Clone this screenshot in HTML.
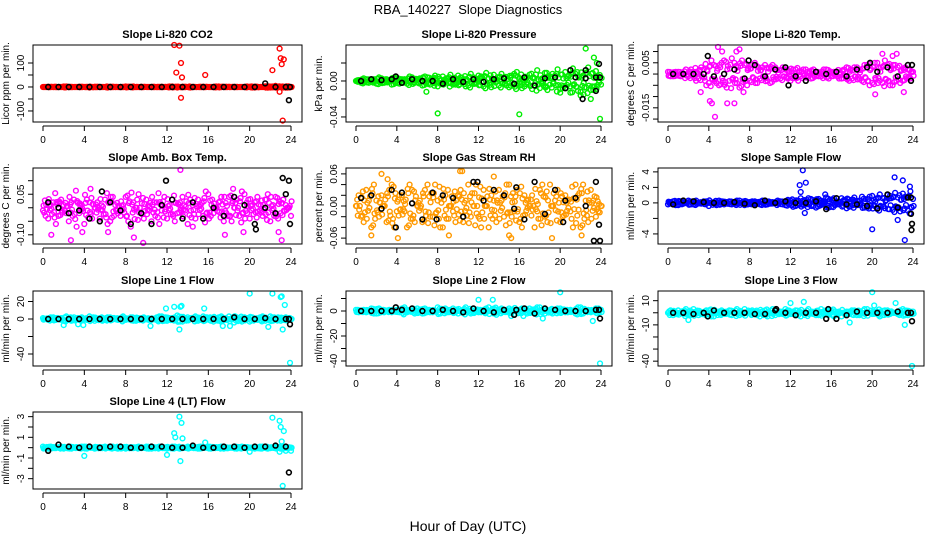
<!DOCTYPE html>
<html><head><meta charset="utf-8"><style>
html,body{margin:0;padding:0;background:#fff;}
svg{display:block;font-family:"Liberation Sans",sans-serif;}
</style></head><body>
<svg id="chart" width="936" height="540" viewBox="0 0 936 540" xmlns="http://www.w3.org/2000/svg">
<rect width="936" height="540" fill="#fff"/>
<text x="468" y="14" text-anchor="middle" font-size="13">RBA_140227&#160; Slope Diagnostics</text>
<text x="468" y="531" text-anchor="middle" font-size="14">Hour of Day (UTC)</text>
</svg>
<script>
const hrsA=[0,0.5,1,1.5,2,2.5,3,3.5,4,4.5,5,5.5,6,6.5,7,7.5,8,8.5,9,9.5,10,10.5,11,11.5,12,12.5,13,13.5,14,14.5,15,15.5,16,16.5,17,17.5,18,18.5,19,19.5,20,20.5,21,21.5,22,22.5,23,23.5,24];
const hrsB=[0.25,0.75,1.25,1.75,2.25,2.75,3.25,3.75,4.25,4.75,5.25,5.75,6.25,6.75,7.25,7.75,8.25,8.75,9.25,9.75,10.25,10.75,11.25,11.75,12.25,12.75,13.25,13.75,14.25,14.75,15.25,15.75,16.25,16.75,17.25,17.75,18.25,18.75,19.25,19.75,20.25,20.75,21.25,21.75,22.25,22.75,23.25,23.75];
const hrsK=[0.5,1.5,2.5,3.5,4.5,5.5,6.5,7.5,8.5,9.5,10.5,11.5,12.5,13.5,14.5,15.5,16.5,17.5,18.5,19.5,20.5,21.5,22.5,23.5];
const xTicks=[0,4,8,12,16,20,24];

const p1A=[0,1,-1,0,2,-1,0,1,0,-2,1,0,0,1,-1,0,2,0,-1,1,0,0,-1,1,0,2,-2,1,0,-1,0,1,0,-1,2,0,1,-1,0,0,1,-2,0,3,-2,4,1,-3,0];
const p1B=[0,-1,1,0,2,-1,0,1,-1,0,1,0,-2,1,0,-1,1,2,0,-1,0,1,-1,0,2,-1,0,1,-2,0,1,-1,0,2,-1,1,0,-1,0,2,-2,1,0,-3,2,1,-2,3];
const p1OutH=[12.7,13.2,12.9,13.35,13.45,13.35,15.7,22.2,22.9,23.0,23.1,23.3,23.2,22.9,22.5];
const p1OutV=[175,172,60,100,40,-45,50,70,160,120,95,115,-140,-20,5];
const p1K=[0,0,0,0,0,0,0,0,0,0,0,0,0,0,0,0,0,0,0,0,0,15,0,0];
const p1KoH=[23.8,23.9];
const p1KoV=[-55,0];

const p2A=[0,-0.002,0.002,0.001,-0.003,0.003,0.002,-0.004,0.003,0.002,-0.003,0.004,0.002,-0.005,0.004,0.003,-0.006,0.005,0.003,-0.004,0.006,0.002,-0.005,0.004,0.006,-0.006,0.003,0.007,-0.005,0.004,-0.007,0.008,0.002,-0.006,0.007,0.003,-0.008,0.009,-0.004,0.006,-0.009,0.01,-0.006,0.008,-0.012,0.009,-0.01,0.011,-0.004];
const p2B=[0.001,0.003,-0.002,0.002,0.004,-0.002,0.001,0.004,-0.003,0.002,0.005,-0.002,0.003,0.005,-0.004,0.006,-0.003,0.002,0.007,-0.004,0.004,-0.006,0.008,-0.003,0.005,0.009,-0.007,0.002,0.008,-0.005,0.006,0.01,-0.008,0.004,-0.009,0.012,0.003,-0.01,0.008,0.013,-0.008,0.005,0.014,-0.011,0.006,0.015,-0.01,0.005];
const p2OutH=[6.9,8,16,20,21,22,22.5,22.3,23,23.3,23.9,23.6];
const p2OutV=[-0.012,-0.036,-0.037,-0.013,-0.013,-0.016,0.036,-0.015,-0.02,0.026,-0.042,0.02];
const p2K=[0,0.002,0.001,0.002,-0.002,0.002,0,0,-0.003,0.002,-0.001,0.002,-0.001,0.002,0.003,-0.003,0.004,-0.005,0.003,0.004,-0.008,0.004,0.003,0.004];
const p2KoH=[21,22.2,22.5,23.8,23.9,23.5,3.9];
const p2KoV=[0.012,-0.02,0.012,0.019,0.004,-0.011,0.005];

const p3A=[0.001,-0.001,0.001,0,-0.001,0.001,-0.002,0.002,-0.004,0.004,-0.005,0.006,-0.003,0.005,-0.006,0.004,-0.003,0.005,-0.002,0.004,-0.004,0.003,-0.002,0.002,-0.003,0.002,-0.001,0.002,-0.002,0.001,-0.001,0.002,-0.001,0.001,-0.002,0.003,-0.002,0.003,-0.003,0.004,-0.004,0.005,-0.004,0.004,-0.005,0.003,-0.003,0.002,0.001];
const p3B=[-0.001,0.001,-0.001,0.002,0.002,-0.003,0.003,-0.005,0.006,-0.004,0.005,-0.006,0.007,-0.004,0.006,-0.005,0.004,-0.004,0.003,-0.003,0.004,-0.002,0.003,-0.002,0.002,-0.003,0.002,-0.001,0.002,-0.001,0.002,-0.002,0.001,-0.002,0.002,-0.003,0.003,-0.002,0.004,-0.005,0.005,-0.003,0.006,-0.005,0.004,-0.004,0.003,-0.002];
const p3OutH=[4.1,4.3,4.6,4.9,5.3,5.8,6.5,7.0,7.4,3.2,20.3,21.0,22.4,23.1,22.0,6.7];
const p3OutV=[-0.012,-0.013,-0.019,0.012,0.01,-0.013,-0.013,0.011,-0.008,-0.008,-0.009,0.009,0.009,-0.008,0.008,0.010];
const p3K=[0,0,0,0,-0.001,0,0.002,-0.002,0.004,-0.001,0.002,0.003,-0.001,-0.003,0.001,0,0.001,-0.001,0.002,0.003,0.001,0.003,-0.001,0.004];
const p3KoH=[3.9,7.9,11.8,19.8,23.8,23.9];
const p3KoV=[0.008,0.006,-0.005,0.005,-0.003,0.004];

const p4A=[-0.01,-0.04,0.02,-0.03,0.01,-0.05,0.03,-0.02,-0.06,0.02,0,-0.04,0.03,-0.05,0.01,-0.03,0.04,-0.07,0,-0.02,0.03,-0.05,0.02,-0.01,-0.04,0.03,-0.02,0.04,-0.06,0.01,0.03,-0.03,0.05,-0.02,0.02,-0.05,0.04,0,-0.03,0.05,-0.04,0.02,-0.01,0.03,-0.05,0.04,-0.02,0.01,-0.03];
const p4B=[-0.03,0.01,-0.06,0.03,-0.02,0.02,-0.07,0.01,0.03,-0.04,0.02,-0.01,-0.06,0.04,-0.02,0.01,-0.05,0.02,0.05,-0.04,-0.01,0.02,-0.06,0.04,0.01,-0.05,0.02,-0.01,0.03,-0.04,0.01,0.06,-0.03,0,0.04,-0.02,-0.05,0.03,0.06,-0.02,0.01,0.04,-0.03,0.05,0.01,-0.04,0.03,0];
const p4OutH=[0.8,2.7,3.8,6.3,8.8,9.7,13.3,17.6,19.4,22.8,23.1,4.6,14.5,18.4];
const p4OutV=[-0.1,-0.12,-0.09,-0.09,-0.11,-0.13,0.14,-0.1,-0.09,-0.09,-0.12,0.07,-0.07,0.07];
const p4K=[0.02,0,-0.02,-0.01,-0.04,-0.05,0.02,-0.01,-0.06,-0.02,-0.06,0.01,0.03,-0.04,0.02,-0.04,0,-0.03,0.04,0.01,-0.06,0,-0.02,0.05];
const p4KoH=[5.7,11.9,23.2,23.8,20.6,23.9];
const p4KoV=[0.06,0.1,0.11,0.1,-0.08,-0.06];

const p5A=[0,-0.02,0.03,-0.04,0.01,0.02,-0.03,0.04,-0.01,0.02,-0.04,0.03,0,-0.03,0.04,-0.02,0.01,-0.04,0.03,-0.01,0.02,-0.03,0.04,0,-0.02,0.03,-0.04,0.01,0.03,-0.02,0.04,-0.01,-0.03,0.02,0,-0.04,0.03,-0.02,0.04,0.01,-0.03,0.02,-0.01,0.04,-0.04,0.01,0.03,-0.02,0];
const p5B=[0.02,-0.03,0.01,0.04,-0.02,0,0.03,-0.04,0.02,-0.01,0.04,-0.03,0.01,0.03,-0.02,0.04,-0.04,0.02,0,-0.03,0.03,0.01,-0.02,0.04,-0.04,0,0.02,-0.03,0.01,0.04,-0.02,0.03,-0.04,0.01,0.02,-0.01,0.04,-0.03,0,0.03,-0.02,0.01,-0.04,0.02,0.04,-0.03,0.01,-0.01];
const p5OutH=[2.5,3.1,4.1,10.2,10.4,13.5,15.0,15.2,19.2,9.1,1.5,22.1];
const p5OutV=[0.06,0.05,-0.06,0.065,0.065,0.055,-0.055,-0.06,-0.06,-0.055,-0.055,-0.055];
const p5K=[0.015,0.02,-0.005,0.03,0.025,0.005,-0.025,0.025,0.02,0.015,-0.02,0.045,0.01,0.03,0.02,-0.005,-0.025,0.045,-0.015,0.03,0.01,0.015,0,0.045];
const p5KoH=[3.9,7.9,11.9,15.7,23.3,23.9,23.8,20.3];
const p5KoV=[-0.04,-0.025,0.045,0.035,-0.065,-0.065,-0.035,-0.03];

const p6A=[-0.2,0.2,-0.3,0.1,0.3,-0.2,0,0.2,-0.4,0.1,0.3,-0.2,0.2,-0.1,0.3,-0.3,0.1,0.2,-0.2,0.3,-0.1,0,0.2,-0.3,0.3,-0.4,0.6,-0.2,0.5,-0.6,0.3,0.7,-0.5,0.2,0.6,-0.7,0.4,-0.3,0.8,-0.6,0.9,-0.8,0.6,1.0,-0.9,0.7,1.2,-1.0,0.5];
const p6B=[0.1,-0.3,0.2,0,-0.2,0.3,-0.1,0.2,0,-0.3,0.2,0.1,-0.2,0.3,0,-0.2,0.2,-0.1,0.3,-0.2,0.1,0.3,-0.2,0.4,-0.5,0.3,-0.3,0.6,-0.4,0.5,0.2,-0.6,0.6,-0.2,0.4,-0.5,0.7,0.3,-0.6,0.8,-0.4,1.1,-0.7,0.9,1.3,-1.1,0.8,1.5];
const p6OutH=[13.2,12.9,13.5,13.0,20.0,22.2,22.5,23.2,23.0,23.7,13.4,15.4];
const p6OutV=[4.2,2.3,2.6,1.4,-3.4,3.3,-2.2,-4.8,2.9,2.1,-1.3,1.1];
const p6K=[-0.2,0.3,0.2,0.1,0,0,0.1,-0.1,-0.3,0.3,0,0.2,0,0,0.2,-0.8,0.6,-0.2,-0.2,-0.4,-0.7,1.1,-0.6,0.7];
const p6KoH=[23.8,23.9,23.85,23.8];
const p6KoV=[-1.4,-2.7,-3.5,0.7];

const p7A=[1,-1,2,0,-2,1,2,-1,0,3,-2,1,-1,2,0,1,-1,2,-2,1,0,-1,2,3,-2,1,4,-3,2,0,-2,3,1,-3,2,-1,3,-4,1,2,-3,0,2,-2,3,1,-2,2,0];
const p7B=[0,2,-1,1,3,-2,0,2,-1,1,0,-2,2,1,-1,3,0,-2,1,2,-1,0,3,-2,1,2,-3,1,0,3,-1,2,-2,1,3,-1,0,2,-3,1,2,-1,3,0,-2,2,1,-1];
const p7OutH=[2,3.4,3.9,10.4,11.9,12.7,13.2,13.4,15.6,17.4,18.1,20,22.2,23,23.1,23.2,23.4,23.9,21.8,13.3];
const p7OutV=[-7,-6,-7,-8,12,14,-12,15,12,-8,-8,29,29,25,26,-12,16,-50,-9,14];
const p7K=[0,0,0,0,0,0,0,0,0,0,0,0,0,0,0,0,0,0,2,0,0,1,0,0];
const p7KoH=[23.9,23.8];
const p7KoV=[-6,0];

const p8A=[1,0,-1,2,-2,1,0,-1,1,2,-1,0,2,-2,1,-1,3,0,-1,2,-2,1,0,2,-1,1,3,-2,0,1,2,-3,1,0,2,-1,3,-2,1,0,2,-1,1,-2,3,0,-1,2,1];
const p8B=[-1,1,0,-2,2,-1,1,0,-1,3,0,-2,1,2,-1,0,-2,2,1,-1,0,3,-2,1,-1,2,0,-3,2,1,-1,0,2,-2,1,3,-1,0,-2,2,1,-1,0,3,-2,1,0,2];
const p8OutH=[12,13.4,18.3,20,23.2,23.9,16.4,15.2];
const p8OutV=[9,9,-6,15,-8,-42,-4,-4];
const p8K=[0,0,0,0,1,2,0,0,1,0,-1,2,0,-1,1,-3,2,-2,2,1,0,0,0,1];
const p8KoH=[3.9,23.9,23.8,15.7];
const p8KoV=[3,-6,1,1];

const p9A=[0,-2,2,-1,1,3,-2,0,2,-3,1,-1,2,0,-2,3,1,-1,-3,2,0,-2,1,3,-1,2,-3,0,1,-2,3,-1,2,0,-3,1,2,-2,0,3,-1,1,-2,2,0,-1,3,-2,1];
const p9B=[2,-1,0,3,-2,1,-1,2,-3,0,2,1,-2,3,-1,0,2,-2,1,-3,3,0,-1,2,1,-2,0,3,-1,-2,1,2,-3,1,0,-1,2,-2,3,0,1,-3,2,-1,0,2,-2,1];
const p9OutH=[2,20,20.2,23.2,22.3,23.9,12,13.3,17.8];
const p9OutV=[-6,17,6,-10,8,-44,8,9,-8];
const p9K=[0,0,-1,0,2,0,0,0,-1,-1,2,0,-2,0,0,-5,-5,-2,1,0,0,0,1,0];
const p9KoH=[3.9,23.9,23.8,10.6,15.7];
const p9KoV=[-3,-7,0,3,3];

const p10A=[0.1,-0.1,0.05,0,-0.1,0.1,0,-0.05,0.1,0,-0.1,0.05,0.1,-0.05,0,0.1,-0.1,0.05,0,-0.05,0.1,-0.1,0,0.05,-0.1,0.1,0,-0.05,0.1,0.05,-0.1,0,0.1,-0.05,0.05,-0.1,0,0.1,-0.05,0.05,0,-0.1,0.1,0,-0.05,0.1,-0.1,0.05,0];
const p10B=[0,0.1,-0.05,0.1,0,-0.1,0.05,0.1,-0.1,0,0.05,-0.05,0,0.1,-0.1,0.05,0,-0.05,0.1,0,-0.1,0.05,0.1,-0.05,0,0.1,-0.1,0,0.05,-0.05,0.1,0,-0.1,0.05,0.1,-0.05,0,-0.1,0.1,0.05,0,-0.05,0.1,-0.1,0,0.05,0.1,-0.05];
const p10OutH=[4,12,12.7,12.8,13.2,13.3,13.4,13.5,15.7,20,22.2,22.9,23,23.1,23.3,23.5,23.2,22.9,24];
const p10OutV=[-0.8,-0.7,1.4,1,3,-1.3,2.4,0.9,0.5,-0.4,2.9,2.6,2,0.6,1.6,-0.3,-3.7,-0.4,-0.3];
const p10K=[-0.3,0.3,0.1,0,0.1,0,0.1,0.1,0,0,0.1,0.1,0,0,0.2,0,0,0.1,0.1,0,0.1,0.1,0.2,0.1];
const p10KoH=[23.8];
const p10KoV=[-2.4];

const panels=[
 {name:'co2',title:'Slope Li-820 CO2',ylab:'Licor ppm per min.',col:'#ff0000',box:[33,45,269,77],ymin:-146,ymax:175,ticks:[-100,-50,0,50,100],labs:[-100,0,100],fmt:0,A:p1A,B:p1B,oh:p1OutH,ov:p1OutV,K:p1K,koh:p1KoH,kov:p1KoV},
 {name:'pressure',title:'Slope Li-820 Pressure',ylab:'kPa per min.',col:'#00ee00',box:[346,45,266,77],ymin:-0.0456,ymax:0.04,ticks:[-0.04,-0.02,0,0.02],labs:[-0.04,0],fmt:2,A:p2A,B:p2B,oh:p2OutH,ov:p2OutV,K:p2K,koh:p2KoH,kov:p2KoV},
 {name:'li820-temp',title:'Slope Li-820 Temp.',ylab:'degrees C per min.',col:'#ff00ff',box:[658,45,266,77],ymin:-0.0213,ymax:0.0129,ticks:[-0.02,-0.015,-0.01,-0.005,0,0.005,0.01],labs:[-0.015,0.005],fmt:3,A:p3A,B:p3B,oh:p3OutH,ov:p3OutV,K:p3K,koh:p3KoH,kov:p3KoV},
 {name:'amb-box-temp',title:'Slope Amb. Box Temp.',ylab:'degrees C per min.',col:'#ff00ff',box:[33,168,269,76],ymin:-0.134,ymax:0.147,ticks:[-0.1,-0.05,0,0.05,0.1],labs:[-0.1,0.05],fmt:2,A:p4A,B:p4B,oh:p4OutH,ov:p4OutV,K:p4K,koh:p4KoH,kov:p4KoV},
 {name:'gas-stream-rh',title:'Slope Gas Stream RH',ylab:'percent per min.',col:'#ff9900',box:[346,168,266,76],ymin:-0.071,ymax:0.071,ticks:[-0.06,-0.04,-0.02,0,0.02,0.04,0.06],labs:[-0.06,0,0.06],fmt:2,A:p5A,B:p5B,oh:p5OutH,ov:p5OutV,K:p5K,koh:p5KoH,kov:p5KoV},
 {name:'sample-flow',title:'Slope Sample Flow',ylab:'ml/min per min.',col:'#0000ff',box:[658,168,266,76],ymin:-5.3,ymax:4.5,ticks:[-4,-2,0,2,4],labs:[-4,0,2,4],fmt:0,A:p6A,B:p6B,oh:p6OutH,ov:p6OutV,K:p6K,koh:p6KoH,kov:p6KoV},
 {name:'line1-flow',title:'Slope Line 1 Flow',ylab:'ml/min per min.',col:'#00ffff',box:[33,291,269,75],ymin:-53.7,ymax:32,ticks:[-40,-20,0,20],labs:[-40,0,20],fmt:0,A:p7A,B:p7B,oh:p7OutH,ov:p7OutV,K:p7K,koh:p7KoH,kov:p7KoV},
 {name:'line2-flow',title:'Slope Line 2 Flow',ylab:'ml/min per min.',col:'#00ffff',box:[346,291,266,75],ymin:-44,ymax:16,ticks:[-40,-30,-20,-10,0,10],labs:[-40,-20,0],fmt:0,A:p8A,B:p8B,oh:p8OutH,ov:p8OutV,K:p8K,koh:p8KoH,kov:p8KoV},
 {name:'line3-flow',title:'Slope Line 3 Flow',ylab:'ml/min per min.',col:'#00ffff',box:[658,291,266,75],ymin:-44,ymax:18,ticks:[-40,-30,-20,-10,0,10],labs:[-40,-10,10],fmt:0,A:p9A,B:p9B,oh:p9OutH,ov:p9OutV,K:p9K,koh:p9KoH,kov:p9KoV},
 {name:'line4-flow',title:'Slope Line 4 (LT) Flow',ylab:'ml/min per min.',col:'#00ffff',box:[33,412,269,77],ymin:-4.0,ymax:3.45,ticks:[-3,-2,-1,0,1,2,3],labs:[-3,-1,1,3],fmt:0,A:p10A,B:p10B,oh:p10OutH,ov:p10OutV,K:p10K,koh:p10KoH,kov:p10KoV}
];

const svg=document.getElementById('chart');
const NS='http://www.w3.org/2000/svg';
function mk(tag,attrs,parent){const e=document.createElementNS(NS,tag);for(const k in attrs)e.setAttribute(k,attrs[k]);parent.appendChild(e);return e;}

panels.forEach(p=>{
  const [bx,by,bw,bh]=p.box;
  const g=mk('g',{},svg);
  
  
  const xs=h=>bx+10+h/24*(bw-21);
  const ys=v=>by+(p.ymax-v)/(p.ymax-p.ymin)*bh;
  const t=mk('text',{x:bx+bw/2,y:by-7,'text-anchor':'middle','font-size':'11','font-weight':'bold'},g);
  t.textContent=p.title;
  
  
  const yl=mk('text',{transform:`translate(${bx-24},${by+bh/2}) rotate(-90)`,'text-anchor':'middle','font-size':'10'},g);
  yl.textContent=p.ylab;
  
  
  const xa=mk('g',{},g);
  
  
  mk('line',{x1:xs(0),x2:xs(24),y1:by+bh+4,y2:by+bh+4,stroke:'#000','stroke-width':1},xa);
  xTicks.forEach(v=>{
    mk('line',{x1:xs(v),x2:xs(v),y1:by+bh+4,y2:by+bh+9,stroke:'#000','stroke-width':1},xa);
    const tl=mk('text',{x:xs(v),y:by+bh+21,'text-anchor':'middle','font-size':'10'},xa);
    tl.textContent=v;
    
    
  });
  const ya=mk('g',{},g);
  
  
  p.ticks.forEach(v=>{
    mk('line',{x1:bx-5,x2:bx,y1:ys(v),y2:ys(v),stroke:'#000','stroke-width':1},ya);
  });
  p.labs.forEach(v=>{
    const tl=mk('text',{transform:`translate(${bx-9},${ys(v)}) rotate(-90)`,'text-anchor':'middle','font-size':'10'},ya);
    tl.textContent=v.toFixed(p.fmt);
    
    
  });
  const pts=mk('g',{fill:'none',stroke:p.col,'stroke-width':1.4},g);
  
  
  const dot=(h,v,par)=>{const c=mk('circle',{cx:xs(h).toFixed(1),cy:ys(v).toFixed(1),r:2.4},par);
    
    };
  for(let i=0;i<Math.min(hrsA.length,p.A.length);i++)dot(hrsA[i],p.A[i],pts);
  for(let i=0;i<Math.min(hrsB.length,p.B.length);i++)dot(hrsB[i],p.B[i],pts);
  for(let i=0;i<Math.min(hrsA.length,p.B.length);i++)dot(hrsA[i]+0.12,p.B[i]*0.6,pts);
  for(let i=0;i<Math.min(hrsB.length,p.A.length);i++)dot(hrsB[i]+0.12,p.A[i]*0.6,pts);
  for(let i=0;i<Math.min(hrsA.length,p.A.length);i++)dot(hrsA[i]+0.06,-p.A[i]*0.8,pts);
  for(let i=0;i<Math.min(hrsB.length,p.B.length);i++)dot(hrsB[i]+0.06,-p.B[i]*0.35,pts);
  for(let i=0;i<Math.min(hrsA.length,p.B.length);i++)dot(hrsA[i]+0.18,-p.B[i]*0.9,pts);
  for(let i=0;i<p.oh.length;i++)dot(p.oh[i],p.ov[i],pts);
  const kp=mk('g',{fill:'none',stroke:'#000','stroke-width':1.6},g);
  
  
  for(let i=0;i<Math.min(hrsK.length,p.K.length);i++)dot(hrsK[i],p.K[i],kp);
  for(let i=0;i<p.koh.length;i++)dot(p.koh[i],p.kov[i],kp);
  const box=mk('rect',{x:bx,y:by,width:bw,height:bh,fill:'none',stroke:'#000','stroke-width':1},g);
  
  
});
</script>
</body></html>
